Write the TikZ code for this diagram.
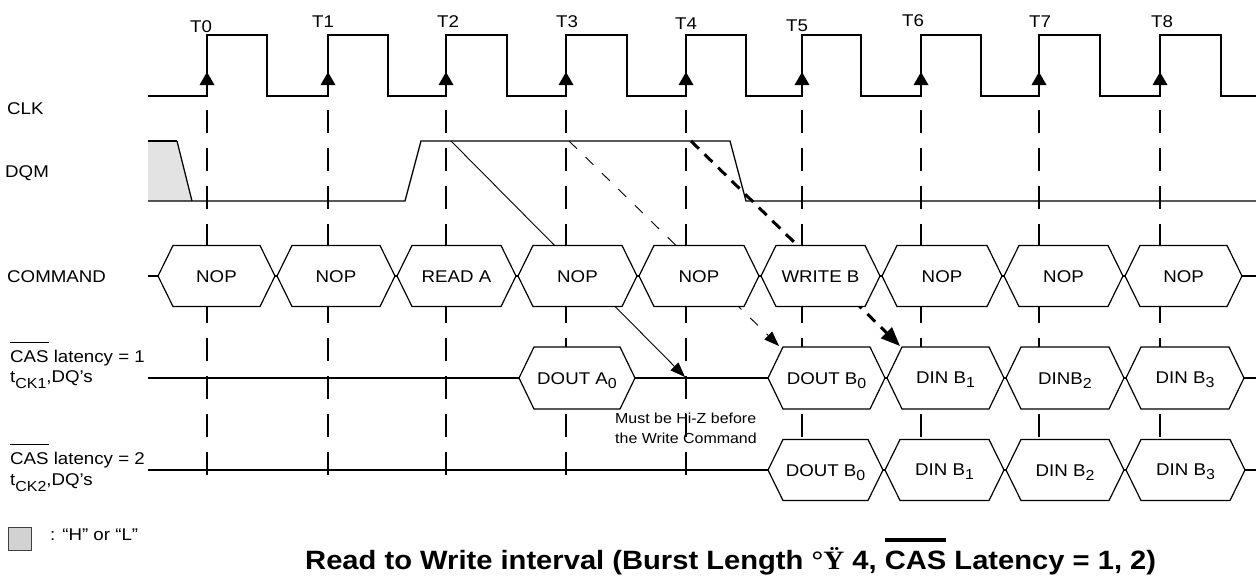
\documentclass[tikz,border=0pt]{standalone}
\usepackage{fontspec}
\setmainfont[FakeStretch=1.1]{Liberation Sans}
\newfontfamily\serifsym[FakeStretch=1.1]{Liberation Serif}
\usetikzlibrary{arrows.meta}
\newcommand\lowidx[1]{\raisebox{-4pt}{\fontsize{14.5}{14.5}\selectfont #1}}
\newcommand\cksub[1]{\raisebox{-6pt}{\fontsize{14.5}{14.5}\selectfont #1}}
\newcommand\ovbar[3]{\sbox0{#3}\rlap{\rule[\dimexpr\ht0+#1\relax]{\wd0}{#2}}\usebox0}
\newcommand\hexat[4]{%
  \draw[hexa] (#1,#3) -- ({#1+15},{#3-#4}) -- ({#2-15},{#3-#4}) -- (#2,#3)
    -- ({#2-15},{#3+#4}) -- ({#1+15},{#3+#4}) -- cycle;}
\begin{document}
\begin{tikzpicture}[x=1pt,y=-1pt,
  lbl/.style={anchor=base west, inner sep=0pt, font=\fontsize{17}{17}\selectfont},
  txt/.style={anchor=base, inner sep=0pt, font=\fontsize{17}{17}\selectfont},
  tlbl/.style={inner sep=0pt, font=\fontsize{17}{17}\selectfont},
  note/.style={anchor=base west, inner sep=0pt, font=\fontsize{14.5}{14.5}\selectfont},
  clkline/.style={line width=2pt, line join=miter},
  gridline/.style={line width=2pt, dash pattern=on 23pt off 15pt},
  dqmline/.style={line width=1.3pt, line join=miter},
  hexa/.style={draw, line width=1.2pt, fill=white, line join=miter},
  busline/.style={line width=2pt},
  thinline/.style={line width=1.1pt},
  arrA/.style={line width=0.9pt, -{Triangle[length=15pt,width=11pt]}},
  arrB/.style={line width=0.9pt, dash pattern=on 11pt off 12pt, -{Triangle[length=15pt,width=11pt]}},
  arrC/.style={line width=3pt, dash pattern=on 11pt off 8pt, -{Triangle[length=19pt,width=15pt]}},
]
\fill[white] (0,0) rectangle (1256,576);
\path[use as bounding box] (0,0) rectangle (1256,576);

% grid lines at rising edges
\foreach \x in {207,328,446,566,686,802,921,1039,1160}
  \draw[gridline] (\x,110) -- (\x,476);

% clock
\draw[clkline] (148,96) -- (207,96) -- (207,35) -- (267,35) -- (267,96)
  -- (328,96) -- (328,35) -- (388,35) -- (388,96)
  -- (446,96) -- (446,35) -- (507,35) -- (507,96)
  -- (566,96) -- (566,35) -- (627,35) -- (627,96)
  -- (686,96) -- (686,35) -- (746,35) -- (746,96)
  -- (802,96) -- (802,35) -- (861,35) -- (861,96)
  -- (921,96) -- (921,35) -- (981,35) -- (981,96)
  -- (1039,96) -- (1039,35) -- (1100,35) -- (1100,96)
  -- (1160,96) -- (1160,35) -- (1221,35) -- (1221,96) -- (1256,96);
\foreach \x in {207,328,446,566,686,802,921,1039,1160}
  \fill (\x-7.5,85) -- (\x,72) -- (\x+7.5,85) -- cycle;

\node[tlbl] (t0) at (201,27) {T0};
\node[tlbl] (t1) at (323,22) {T1};
\node[tlbl] (t2) at (448,22) {T2};
\node[tlbl] (t3) at (567,22) {T3};
\node[tlbl] (t4) at (686,24) {T4};
\node[tlbl] (t5) at (797,26) {T5};
\node[tlbl] (t6) at (913,21) {T6};
\node[tlbl] (t7) at (1040,22) {T7};
\node[tlbl] (t8) at (1162,22) {T8};

% DQM
\fill[gray!22] (148,141) -- (177,141) -- (192,201) -- (148,201) -- cycle;
\draw[line width=2pt] (148,141) -- (177,141);
\draw[dqmline] (177,141) -- (192,201);
\draw[dqmline] (148,201) -- (405,201) -- (421,141) -- (730,141) -- (746,201) -- (1256,201);

% arrows (drawn before hexagons, which hide their middle parts)
\coordinate (s1) at (451,141);
\coordinate (e1) at (685,377);
\coordinate (s2) at (569,141);
\coordinate (e2) at (779,346);
\coordinate (s3) at (691,141);
\coordinate (e3) at (900,346);
\draw[arrA] (s1) -- (e1);
\draw[arrB] (s2) -- (e2);
\draw[arrC] (s3) -- (e3);

% COMMAND row
\draw[thinline] (148,276) -- (1256,276);
\hexat{158}{275}{276}{30.5}
\hexat{277}{395}{276}{30.5}
\hexat{397}{516}{276}{30.5}
\hexat{518}{637}{276}{30.5}
\hexat{639}{759}{276}{30.5}
\hexat{761}{880}{276}{30.5}
\hexat{882}{1002}{276}{30.5}
\hexat{1004}{1123}{276}{30.5}
\hexat{1125}{1242}{276}{30.5}
\node[txt] (c0) at (216.5,282) {NOP};
\node[txt] (c1) at (336,282) {NOP};
\node[txt] (c2) at (456.5,282) {READ A};
\node[txt] (c3) at (577.5,282) {NOP};
\node[txt] (c4) at (699,282) {NOP};
\node[txt] (c5) at (820.5,282) {WRITE B};
\node[txt] (c6) at (942,282) {NOP};
\node[txt] (c7) at (1063.5,282) {NOP};
\node[txt] (c8) at (1183.5,282) {NOP};

% CAS latency 1 row
\draw[busline] (148,378) -- (519,378);
\draw[busline] (635,378) -- (768,378);
\draw[thinline] (768,378) -- (1256,378);
\hexat{519}{635}{378}{31}
\hexat{768}{885}{378}{31}
\hexat{887}{1004}{378}{31}
\hexat{1006}{1124}{378}{31}
\hexat{1126}{1244}{378}{31}
\node[txt] (d0) at (577,384) {DOUT A\lowidx{0}};
\node[txt] (d1) at (826.5,384) {DOUT B\lowidx{0}};
\node[txt] (d2) at (945.5,383) {DIN B\lowidx{1}};
\node[txt] (d3) at (1065,384) {DINB\lowidx{2}};
\node[txt] (d4) at (1185,383) {DIN B\lowidx{3}};

% CAS latency 2 row
\draw[busline] (148,470) -- (768,470);
\draw[thinline] (768,470) -- (1256,470);
\hexat{768}{883}{470}{30.5}
\hexat{885}{1004}{470}{30.5}
\hexat{1006}{1124}{470}{30.5}
\hexat{1126}{1245}{470}{30.5}
\node[txt] (f1) at (825.5,476) {DOUT B\lowidx{0}};
\node[txt] (f2) at (944.5,475) {DIN B\lowidx{1}};
\node[txt] (f3) at (1065,476) {DIN B\lowidx{2}};
\node[txt] (f4) at (1185.5,475) {DIN B\lowidx{3}};

% note
\node[note] (n1) at (615,423) {Must be Hi-Z before};
\node[note] (n2) at (615,443) {the Write Command};

% row labels
\node[lbl] (clk) at (7,114) {CLK};
\node[lbl] (dqm) at (5,177) {DQM};
\node[lbl] (cmd) at (7,282) {COMMAND};
\node[lbl] (cas1) at (10,362) {\ovbar{7pt}{1.3pt}{CAS} latency = 1};
\node[lbl] (tck1) at (10,382) {t\cksub{CK1},DQ’s};
\node[lbl] (cas2) at (10,464) {\ovbar{7pt}{1.3pt}{CAS} latency = 2};
\node[lbl] (tck2) at (10,485) {t\cksub{CK2},DQ’s};

% legend
\node[draw=black!75, fill=gray!35, line width=1pt, minimum width=23pt, minimum height=23pt, inner sep=0pt] (legbox) at (20,538.5) {};
\node[lbl] (legtxt) at (50,540) {: “H” or “L”};

% title
\node[anchor=base west, inner sep=0pt, font=\bfseries\fontsize{26.5}{26.5}\selectfont] (title) at (305,569)
  {Read to Write interval (Burst Length {\serifsym °Ÿ} 4, \ovbar{9pt}{4pt}{CAS} Latency = 1, 2)};
\end{tikzpicture}
\end{document}
